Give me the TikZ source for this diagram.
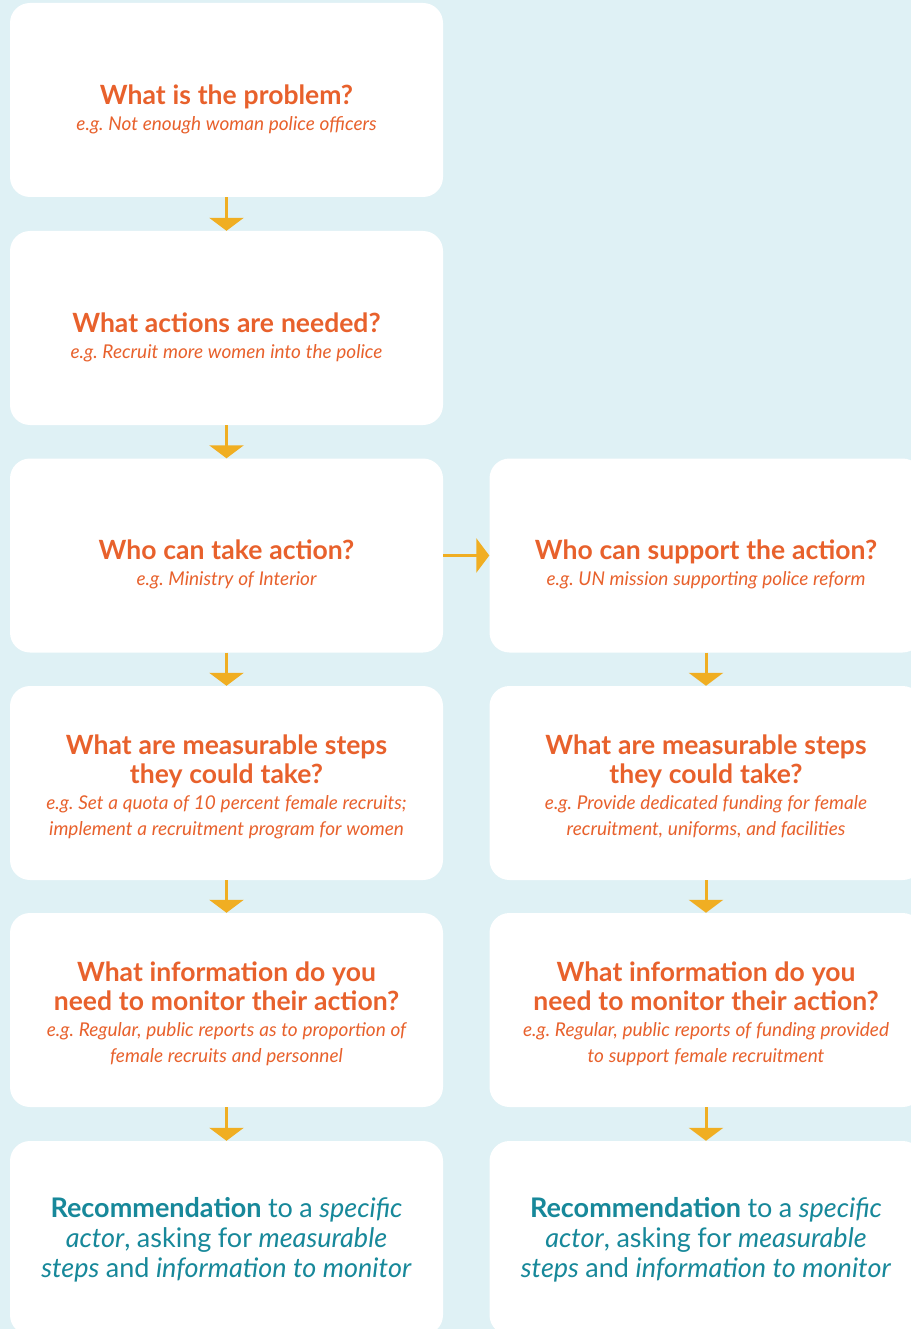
\documentclass[tikz,border=0pt]{standalone}
\usepackage{fontspec}
\setmainfont{Lato}
\frenchspacing
\usetikzlibrary{arrows.meta}
\definecolor{bgblue}{HTML}{DFF1F5}
\definecolor{titleorange}{HTML}{E8612C}
\definecolor{recteal}{HTML}{17889A}
\definecolor{arrowgold}{HTML}{F0AE22}
\newcommand{\qtitle}[1]{{\fontsize{26.5}{29}\selectfont\bfseries\spaceskip=0.26em #1\par}}
\newcommand{\qexample}[1]{{\fontsize{19}{26}\selectfont\itshape\spaceskip=0.25em #1\par}}
\newcommand{\qrecommend}{{\fontsize{27}{30}\selectfont\spaceskip=0.24em \textbf{Recommendation} to a \textit{specific}\\
  \textit{actor}, asking for \textit{measurable}\\
  \textit{steps} and \textit{information to monitor}\par}}

\begin{document}
\begin{tikzpicture}[x=1pt, y=-1pt]
  \tikzset{
    box/.style={fill=white, rounded corners=20pt, minimum width=433pt, minimum height=194pt,
      text width=428pt, align=center, text=titleorange, inner sep=0pt,
      execute at end node={\vspace*{-#1}}},
    box/.default=7pt,
    flow/.style={arrowgold, line width=3pt, -{Triangle[width=34pt, length=13pt]}}
  }
  \fill[bgblue] (0,0) rectangle (911,1329);
  \useasboundingbox (0,0) rectangle (911,1329);

  % left column
  \node[box=18pt] (problem) at (226.5, 100) {\qtitle{What is the problem?}\qexample{e.g. Not enough woman police officers}};
  \node[box=18pt] (actions) at (226.5, 328) {\qtitle{What actions are needed?}\qexample{e.g. Recruit more women into the police}};
  \node[box=18pt] (who) at (226.5, 555.5) {\qtitle{Who can take action?}\qexample{e.g. Ministry of Interior}};
  \node[box] (stepsL) at (226.5, 783) {\qtitle{What are measurable steps\\ they could take?}\qexample{e.g. Set a quota of 10 percent female recruits;\\ implement a recruitment program for women}};
  \node[box] (infoL) at (226.5, 1010) {\qtitle{What information do you\\ need to monitor their action?}\qexample{e.g. Regular, public reports as to proportion of\\ female recruits and personnel}};
  \node[box=4pt, text=recteal] (recL) at (226.5, 1238) {\qrecommend};

  % right column
  \node[box=18pt] (support) at (706, 555.5) {\qtitle{Who can support the action?}\qexample{e.g. UN mission supporting police reform}};
  \node[box] (stepsR) at (706, 783) {\qtitle{What are measurable steps\\ they could take?}\qexample{e.g. Provide dedicated funding for female\\ recruitment, uniforms, and facilities}};
  \node[box] (infoR) at (706, 1010) {\qtitle{What information do you\\ need to monitor their action?}\qexample{e.g. Regular, public reports of funding provided\\ to support female recruitment}};
  \node[box=4pt, text=recteal] (recR) at (706, 1238) {\qrecommend};

  \draw[flow] (problem) -- (actions);
  \draw[flow] (actions) -- (who);
  \draw[flow] (who) -- (stepsL);
  \draw[flow] (stepsL) -- (infoL);
  \draw[flow] (infoL) -- (recL);
  \draw[flow] (who) -- (support);
  \draw[flow] (support) -- (stepsR);
  \draw[flow] (stepsR) -- (infoR);
  \draw[flow] (infoR) -- (recR);
\end{tikzpicture}
\end{document}
